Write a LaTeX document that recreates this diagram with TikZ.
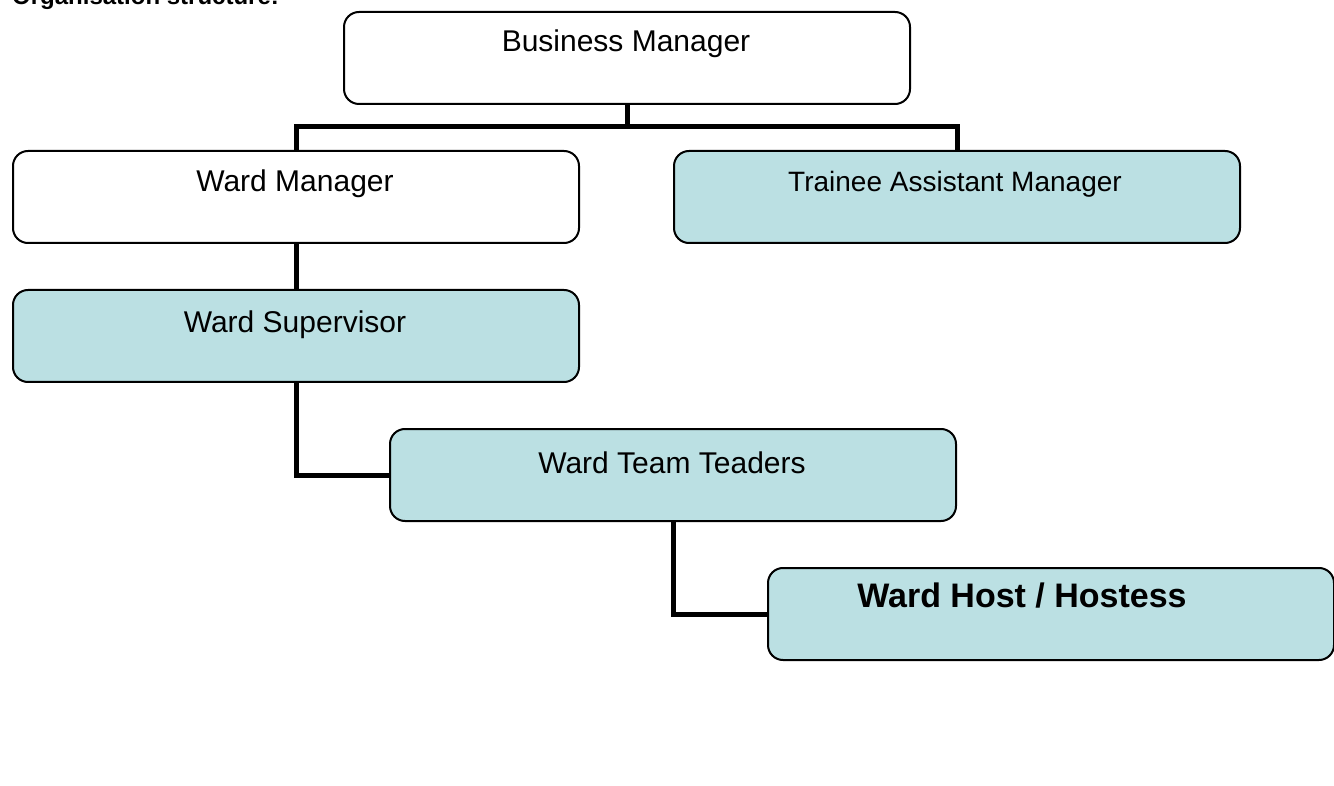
\documentclass[tikz,border=0pt]{standalone}
\usepackage{fontspec}
\setmainfont{Liberation Sans}
\definecolor{boxblue}{RGB}{187,224,227}
\begin{document}
\begin{tikzpicture}[x=1pt,y=-1pt,
  box/.style={draw=black, line width=2pt, rounded corners=15pt, minimum width=566pt, minimum height=92pt, anchor=north west, inner sep=0pt},
  bluebox/.style={box, fill=boxblue},
  conn/.style={draw=black, line width=5pt},
  txt/.style={anchor=base, inner sep=0pt, font=\fontsize{30}{36}\selectfont},
]
\useasboundingbox (0,0) rectangle (1334,786);
\node[anchor=base west, inner sep=0pt, font=\fontsize{24}{28}\selectfont\bfseries] (title) at (12,5) {Organisation structure:};
\coordinate (j) at (626,127);
\node[box] (bm) at (343,11) {};
\node[box] (wm) at (12,150) {};
\node[bluebox] (tam) at (673,150) {};
\node[bluebox] (ws) at (12,289) {};
\node[bluebox] (wtt) at (389,428) {};
\node[bluebox] (whh) at (767,567) {};
\draw[conn] (bm.south) -- ([yshift=-2.5pt]bm.south |- j);
\draw[conn] (wm.north) -- (wm.north |- j) -- (tam.north |- j) -- (tam.north);
\draw[conn] (wm.south) -- (ws.north);
\draw[conn] (ws.south) |- (wtt.west);
\draw[conn] (wtt.south) |- (whh.west);
\node[txt] (bmt) at (626,52) {Business Manager};
\node[txt] (wmt) at (295,192) {Ward Manager};
\node[txt, font=\fontsize{28}{34}\selectfont] (tamt) at (955,192) {Trainee Assistant Manager};
\node[txt] (wst) at (295,333) {Ward Supervisor};
\node[txt] (wttt) at (672,473) {Ward Team Teaders};
\node[txt, font=\fontsize{34}{40}\selectfont\bfseries] (whht) at (1022,607) {Ward Host / Hostess};
\end{tikzpicture}
\end{document}
